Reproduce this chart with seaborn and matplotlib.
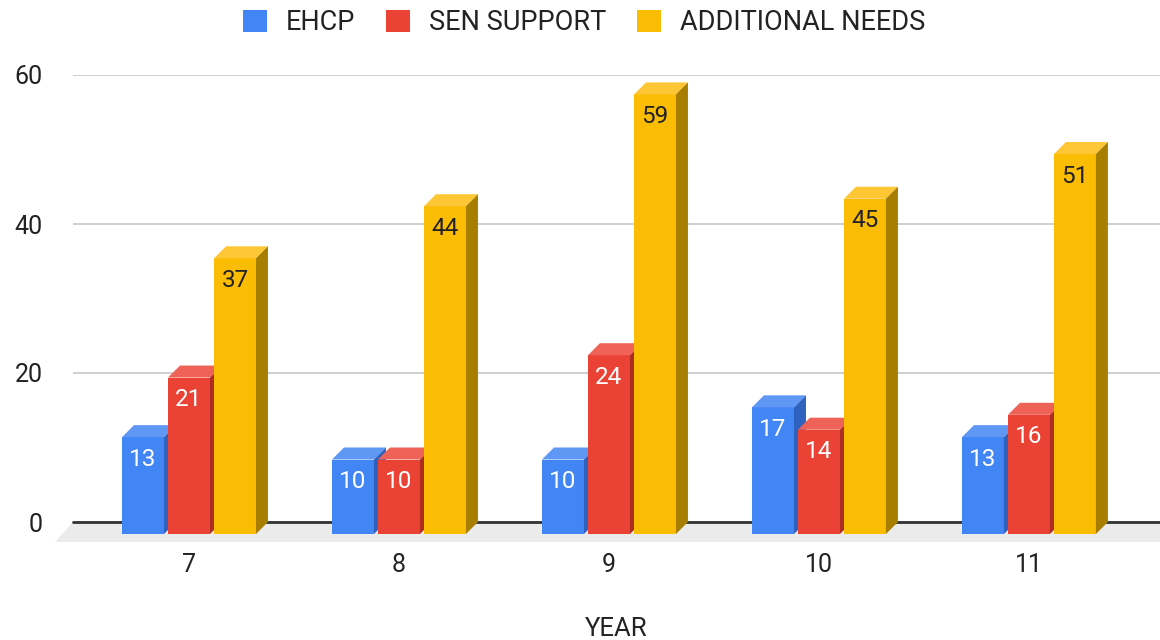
import numpy as np
import pandas as pd
import matplotlib
matplotlib.use("Agg")
import matplotlib.pyplot as plt
from matplotlib.patches import Polygon, Patch
import seaborn as sns

# ── data ─────────────────────────────────────────────────────────────────────
YEARS = ["7", "8", "9", "10", "11"]
EHCP = [13, 10, 10, 17, 13]
SEN_SUPPORT = [21, 10, 24, 14, 16]
ADDITIONAL_NEEDS = [37, 44, 59, 45, 51]
SERIES = ["EHCP", "SEN SUPPORT", "ADDITIONAL NEEDS"]

FRONT = ["#4285F4", "#EA4335", "#FBBC04"]
TOP = ["#5F97F5", "#EE6257", "#FCC634"]
SIDE = ["#2F62BE", "#AE2D22", "#A87E00"]
LABEL_COL = ["white", "white", "#202124"]
INK = "#222222"

df = pd.DataFrame({
    "year": YEARS * 3,
    "count": EHCP + SEN_SUPPORT + ADDITIONAL_NEEDS,
    "type": np.repeat(SERIES, len(YEARS)),
})

sns.set_style("white")
plt.rcParams["font.family"] = ["Roboto", "DejaVu Sans"]

W, H = 1160, 640
fig = plt.figure(figsize=(W / 100, H / 100), dpi=100)
ax = fig.add_axes([73 / W, 118 / H, 1087 / W, 447 / H])

sns.barplot(data=df, x="year", y="count", hue="type", order=YEARS,
            hue_order=SERIES, palette=FRONT, saturation=1, width=0.657,
            gap=0.087, errorbar=None, legend=False, linewidth=0, ax=ax)

XLIM = (-0.6095, 4.567)
ax.set_xlim(*XLIM)
ax.set_ylim(0, 60)

# pixel -> data conversion for the fake 3D depth
px_x = 1087 / (XLIM[1] - XLIM[0])
px_y = 447 / 60
DX, DY = 12 / px_x, 12 / px_y

for k, cont in enumerate(ax.containers):
    for bar, val in zip(cont.patches, cont.datavalues):
        x0, w, h = bar.get_x(), bar.get_width(), bar.get_height()
        bar.set_x(x0 - DX)
        bar.set_y(-DY)
        bar.set_clip_on(False)
        bar.set_zorder(3 + k)
        ax.add_patch(Polygon([(x0 - DX, h - DY), (x0 + w - DX, h - DY), (x0 + w, h), (x0, h)],
                             closed=True, fc=TOP[k], ec="none", zorder=3 + k, clip_on=False))
        ax.add_patch(Polygon([(x0 + w - DX, -DY), (x0 + w, 0), (x0 + w, h), (x0 + w - DX, h - DY)],
                             closed=True, fc=SIDE[k], ec="none", zorder=3 + k, clip_on=False))
        ax.text(x0 - DX + w / 2, h - DY - 22 / px_y, f"{val:.0f}", ha="center", va="center",
                fontsize=17.5, color=LABEL_COL[k], zorder=3.5 + k)

# floor + baseline
fdx, fdy = 18 / px_x, 20 / px_y
ax.add_patch(Polygon([(XLIM[0], 0), (XLIM[1] + 1, 0), (XLIM[1] + 1 - fdx, -fdy), (XLIM[0] - fdx, -fdy)],
                     closed=True, fc="#EBEBEB", ec="none", zorder=1, clip_on=False))
ax.axhline(0, color="#333333", lw=2, zorder=2, clip_on=False)

ax.set_yticks([0, 20, 40, 60])
ax.yaxis.grid(True, color="#CCCCCC", lw=1.3)
ax.set_axisbelow(True)
ax.set_xticks(np.arange(len(YEARS)) - DX)
ax.set_xticklabels(YEARS)
for s in ax.spines.values():
    s.set_visible(False)
ax.tick_params(axis="both", length=0, labelsize=18, labelcolor=INK)
ax.tick_params(axis="y", pad=22)
ax.tick_params(axis="x", pad=22)
ax.set_ylabel("")
ax.set_xlabel("YEAR", fontsize=18.5, color=INK, labelpad=29)

handles = [Patch(facecolor=c, edgecolor="none") for c in FRONT]
fig.legend(handles, SERIES, loc="center", bbox_to_anchor=(584 / W, 1 - 23 / H), ncol=3,
           frameon=False, fontsize=19.5, handlelength=0.886, handleheight=0.886,
           handletextpad=0.70, columnspacing=1.14, labelcolor=INK)

fig.savefig("out.png", dpi=100)
